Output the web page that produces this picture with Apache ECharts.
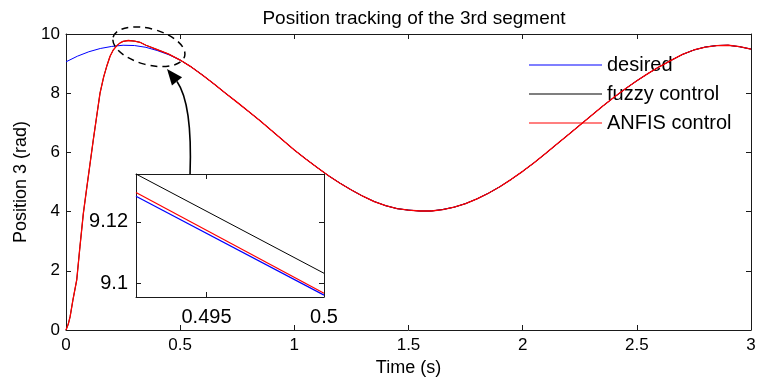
<!DOCTYPE html>
<html>
<head>
<meta charset="utf-8">
<script src="https://cdn.jsdelivr.net/npm/echarts@6/dist/echarts.min.js"></script>
<style>
  html, body { margin: 0; padding: 0; background: #fff; }
  #chart { width: 759px; height: 387px; }
</style>
</head>
<body>
<div id="chart"></div>
<script>
// time samples of the desired trajectory (s)
const timeDesired = [
  0, 0.05, 0.1, 0.15, 0.2, 0.25, 0.3, 0.35, 0.4, 0.45,
  0.5, 0.55, 0.6, 0.65, 0.7, 0.75, 0.8, 0.85, 0.9, 0.95,
  1, 1.05, 1.1, 1.15, 1.2, 1.25, 1.3, 1.35, 1.4, 1.45,
  1.5, 1.55, 1.6, 1.65, 1.7, 1.75, 1.8, 1.85, 1.9, 1.95,
  2, 2.05, 2.1, 2.15, 2.2, 2.25, 2.3, 2.35, 2.4, 2.45,
  2.5, 2.55, 2.6, 2.65, 2.7, 2.75, 2.8, 2.85, 2.9, 2.95, 3
];
// desired position (rad)
const posDesired = [
  9.06, 9.25, 9.40, 9.51, 9.58, 9.62, 9.61, 9.55, 9.44, 9.30,
  9.12, 8.88, 8.60, 8.30, 7.99, 7.69, 7.38, 7.07, 6.74, 6.41,
  6.08, 5.78, 5.49, 5.21, 4.96, 4.73, 4.52, 4.34, 4.20, 4.10,
  4.05, 4.02, 4.02, 4.07, 4.15, 4.27, 4.43, 4.62, 4.84, 5.09,
  5.36, 5.65, 5.96, 6.28, 6.60, 6.92, 7.24, 7.56, 7.86, 8.15,
  8.42, 8.67, 8.90, 9.11, 9.31, 9.46, 9.56, 9.61, 9.62, 9.57, 9.49
];
// start-up transient of the controllers (before they join the reference)
const timeStart = [
  0, 0.01, 0.018, 0.03, 0.047, 0.061, 0.076, 0.09, 0.105, 0.12,
  0.134, 0.149, 0.165, 0.178, 0.193, 0.207, 0.222, 0.237, 0.25, 0.273,
  0.3, 0.324, 0.35, 0.4, 0.45
];
const posAnfisStart = [
  0, 0.2, 0.45, 1.0, 1.69, 2.81, 3.94, 4.75, 5.6, 6.45,
  7.2, 8.0, 8.55, 8.9, 9.25, 9.46, 9.6, 9.7, 9.75, 9.78,
  9.76, 9.72, 9.62, 9.47, 9.32
];
const posFuzzyStart = posAnfisStart;

// zoomed window around t = 0.5 s
const timeZoom = [0.492, 0.5];
const zoomDesired = [9.1283, 9.0962];
const zoomFuzzy = [9.1355, 9.1033];
const zoomAnfis = [9.1295, 9.0968];

const xTicks = [0, 0.5, 1, 1.5, 2, 2.5, 3];
const yTicks = [0, 2, 4, 6, 8, 10];
const zoomXTicks = [0.495, 0.5];
const zoomYTicks = [9.1, 9.12];

const pairs = (xs, ys) => xs.map((x, i) => [x, ys[i]]);
const joinRef = (xs, ys) =>
  pairs(xs, ys).concat(pairs(timeDesired, posDesired).filter(([t]) => t >= 0.5));

const font = "'Liberation Sans', Arial, sans-serif";
const ink = "#1a1a1a";

// 框 + 刻度朝里 (matlab style)
const boxAxis = (extra) => Object.assign({
  type: "value",
  axisLine: { show: true, onZero: false, lineStyle: { color: ink, width: 1 } },
  axisTick: { show: true, inside: true, length: 5, lineStyle: { color: ink } },
  axisLabel: { show: false },
  splitLine: { show: false }
}, extra);

const lineSeries = (name, color, xi, yi, data, width, z) => ({
  name, type: "line", xAxisIndex: xi, yAxisIndex: yi,
  data, showSymbol: false, symbol: "none",
  lineStyle: { color, width: width || 1 }, itemStyle: { color },
  z: z
});

const option = {
  animation: false,
  backgroundColor: "#fff",
  textStyle: { fontFamily: font, color: "#000" },
  title: {
    text: "Position tracking of the 3rd segment",
    left: 409, top: 4, textAlign: "center",
    textStyle: { fontSize: 19, fontWeight: "normal", color: "#000", fontFamily: font }
  },
  legend: {
    orient: "vertical", left: 529, top: 55,
    icon: "rect", itemWidth: 73, itemHeight: 1.2, itemGap: 9, padding: 0,
    selectedMode: false,
    textStyle: { fontSize: 20, color: "#000", fontFamily: font },
    data: ["desired", "fuzzy control", "ANFIS control"]
  },
  grid: [
    { left: 66, right: 8, top: 34, bottom: 57 },
    { left: 136, top: 174, width: 188, height: 123, show: true,
      backgroundColor: "#fff", borderColor: "transparent", z: 5 }
  ],
  xAxis: [
    boxAxis({ gridIndex: 0, position: "bottom", min: 0, max: 3, interval: 0.5,
      axisLabel: { show: true, fontSize: 17, color: "#000", margin: 7, fontFamily: font,
        customValues: xTicks },
      name: "Time (s)", nameLocation: "middle", nameGap: 29,
      nameTextStyle: { fontSize: 18, color: "#000", fontFamily: font } }),
    boxAxis({ gridIndex: 0, position: "top", min: 0, max: 3, interval: 0.5 }),
    boxAxis({ gridIndex: 1, position: "bottom", min: 0.492, max: 0.5,
      axisTick: { show: true, inside: true, length: 5, lineStyle: { color: ink }, customValues: zoomXTicks },
      axisLabel: { show: true, fontSize: 20, color: "#000", margin: 10, fontFamily: font,
        customValues: zoomXTicks, formatter: (v) => String(+v.toFixed(3)) },
      z: 6 }),
    boxAxis({ gridIndex: 1, position: "top", min: 0.492, max: 0.5,
      axisTick: { show: true, inside: true, length: 5, lineStyle: { color: ink }, customValues: zoomXTicks },
      z: 6 })
  ],
  yAxis: [
    boxAxis({ gridIndex: 0, position: "left", min: 0, max: 10, interval: 2,
      axisLabel: { show: true, fontSize: 17, color: "#000", margin: 6, fontFamily: font,
        customValues: yTicks },
      name: "Position 3 (rad)", nameLocation: "middle", nameGap: 35,
      nameTextStyle: { fontSize: 18, color: "#000", fontFamily: font } }),
    boxAxis({ gridIndex: 0, position: "right", min: 0, max: 10, interval: 2 }),
    boxAxis({ gridIndex: 1, position: "left", min: 9.0956, max: 9.1355,
      axisTick: { show: true, inside: true, length: 5, lineStyle: { color: ink }, customValues: zoomYTicks },
      axisLabel: { show: true, fontSize: 20, color: "#000", margin: 8, fontFamily: font,
        customValues: zoomYTicks, formatter: (v) => String(+v.toFixed(2)) },
      z: 6 }),
    boxAxis({ gridIndex: 1, position: "right", min: 9.0956, max: 9.1355,
      axisTick: { show: true, inside: true, length: 5, lineStyle: { color: ink }, customValues: zoomYTicks },
      z: 6 })
  ],
  series: [
    lineSeries("desired", "#0000ff", 0, 0, pairs(timeDesired, posDesired), 1, 2),
    lineSeries("fuzzy control", "#000000", 0, 0, joinRef(timeStart, posFuzzyStart), 1, 3),
    lineSeries("ANFIS control", "#ff0000", 0, 0, joinRef(timeStart, posAnfisStart), 1.3, 4),
    lineSeries("desired", "#0000ff", 2, 2, pairs(timeZoom, zoomDesired), 1.2, 7),
    lineSeries("fuzzy control", "#000000", 2, 2, pairs(timeZoom, zoomFuzzy), 1, 7),
    lineSeries("ANFIS control", "#ff0000", 2, 2, pairs(timeZoom, zoomAnfis), 1.2, 7)
  ]
};

const chart = echarts.init(document.getElementById("chart"));
chart.setOption(option);

// 注释: 虚线椭圆 + 箭头
const ellipseAt = [0.363, 9.57];
const arrowFrom = [0.4943, 9.1355]; // top edge of the zoom box
const arrowTo = [0.4424, 8.82];
const c = chart.convertToPixel({ gridIndex: 0 }, ellipseAt);
const a = chart.convertToPixel({ gridIndex: 1 }, arrowFrom);
const tip = chart.convertToPixel({ gridIndex: 0 }, arrowTo);
const base = [tip[0] + 10, tip[1] + 12.5];
const n = [0.78, -0.625], hw = 6.5;

chart.setOption({
  graphic: [
    { type: "ellipse", x: c[0], y: c[1], rotation: -0.26, z: 10,
      shape: { cx: 0, cy: 0, rx: 37, ry: 18 },
      style: { fill: "none", stroke: "#000", lineWidth: 1.5, lineDash: [7, 5] } },
    { type: "bezierCurve", z: 10,
      shape: { x1: a[0], y1: a[1], cpx1: a[0] + 2.5, cpy1: tip[1] + 35, x2: base[0], y2: base[1] },
      style: { fill: "none", stroke: "#000", lineWidth: 1.6 } },
    { type: "polygon", z: 10,
      shape: { points: [tip, [base[0] + n[0] * hw, base[1] + n[1] * hw], [base[0] - n[0] * hw, base[1] - n[1] * hw]] },
      style: { fill: "#000" } }
  ]
});
</script>
</body>
</html>
